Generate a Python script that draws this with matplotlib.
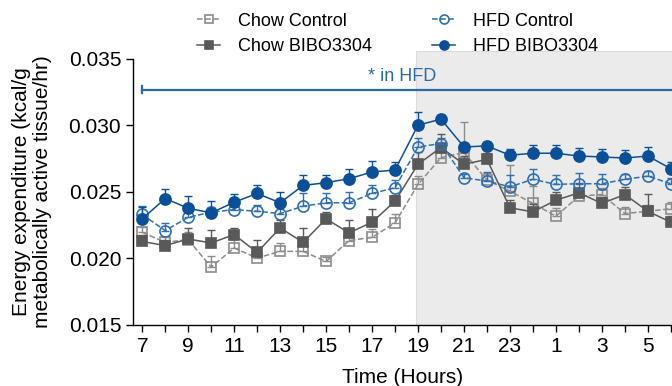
import matplotlib
matplotlib.use("Agg")
import matplotlib.pyplot as plt
from matplotlib.patches import Rectangle
from matplotlib.lines import Line2D

plt.rcParams['font.family'] = ['Liberation Sans', 'DejaVu Sans']

hours = list(range(7, 31))
tick_pos = list(range(7, 31, 2))
tick_labels = ["7", "9", "11", "13", "15", "17", "19", "21", "23", "1", "3", "5"]

chow_control = [0.02196, 0.02121, 0.02141, 0.01935, 0.02078, 0.02003, 0.02053, 0.02053,
                0.01977, 0.02134, 0.02158, 0.02267, 0.02556, 0.02757, 0.02795, 0.02588,
                0.02505, 0.02413, 0.02317, 0.02468, 0.02480, 0.02337, 0.02354, 0.02373]
chow_control_err = [0.0004, 0.0004, 0.0006, 0.0008, 0.0007, 0.0006, 0.0006, 0.0005,
                    0.0003, 0.0005, 0.0006, 0.0007, 0.0006, 0.0006, 0.0023, 0.0005,
                    0.0020, 0.0013, 0.0006, 0.0005, 0.0005, 0.0005, 0.0005, 0.0005]
chow_bibo = [0.02128, 0.02096, 0.02146, 0.02116, 0.02179, 0.02045, 0.02229, 0.02121,
             0.02297, 0.02192, 0.02272, 0.02430, 0.02707, 0.02833, 0.02707, 0.02744,
             0.02380, 0.02350, 0.02437, 0.02493, 0.02413, 0.02480, 0.02354, 0.02272]
chow_bibo_err = [0.0005, 0.0004, 0.0008, 0.0010, 0.0005, 0.0009, 0.0006, 0.0011,
                 0.0005, 0.0010, 0.0010, 0.0005, 0.0009, 0.0010, 0.0006, 0.0005,
                 0.0006, 0.0006, 0.0006, 0.0007, 0.0005, 0.0006, 0.0013, 0.0005]
hfd_control = [0.02330, 0.02209, 0.02309, 0.02347, 0.02367, 0.02354, 0.02337, 0.02392,
               0.02418, 0.02418, 0.02488, 0.02531, 0.02837, 0.02863, 0.02606, 0.02581,
               0.02538, 0.02594, 0.02556, 0.02561, 0.02561, 0.02594, 0.02618, 0.02561]
hfd_control_err = [0.0006, 0.0006, 0.0005, 0.0004, 0.0005, 0.0005, 0.0005, 0.0010,
                   0.00075, 0.0008, 0.0006, 0.0006, 0.0007, 0.0004, 0.0003, 0.0007,
                   0.0009, 0.0008, 0.0007, 0.0008, 0.0007, 0.0004, 0.0004, 0.0004]
hfd_bibo = [0.02297, 0.02450, 0.02377, 0.02342, 0.02422, 0.02488, 0.02418, 0.02548,
            0.02569, 0.02599, 0.02649, 0.02664, 0.03001, 0.03046, 0.02837, 0.02845,
            0.02775, 0.02790, 0.02790, 0.02769, 0.02762, 0.02754, 0.02769, 0.02674]
hfd_bibo_err = [0.0009, 0.0007, 0.0009, 0.0009, 0.0006, 0.0006, 0.0008, 0.0008,
                0.0006, 0.0007, 0.0008, 0.0006, 0.0010, 0.0003, 0.0003, 0.0003,
                0.0005, 0.0006, 0.0006, 0.0006, 0.0006, 0.0006, 0.0007, 0.0005]

GREY_L = "#8c8c8c"
GREY_D = "#595959"
BLUE_L = "#2f6fb0"
BLUE_D = "#0b4f96"
LINE_BLUE = "#2c6aa6"

fig = plt.figure(figsize=(6.72, 3.86), dpi=100)
ax = fig.add_axes([133 / 672, 1 - 325 / 386, 1 - 133 / 672, (325 - 58.7) / 386])

ax.set_xlim(6.6, 30.05)
ax.set_ylim(0.015, 0.035)

# dark phase shading
ax.add_patch(Rectangle((18.9, 0.015), 20, 0.0356 - 0.015, facecolor="#ebebeb",
                       edgecolor="#dcdcdc", linewidth=0.8, clip_on=False, zorder=0))

series = [
    ("Chow Control", chow_control, chow_control_err, GREY_L, "s", "none", "--"),
    ("Chow BIBO3304", chow_bibo, chow_bibo_err, GREY_D, "s", GREY_D, "-"),
    ("HFD Control", hfd_control, hfd_control_err, BLUE_L, "o", "none", "--"),
    ("HFD BIBO3304", hfd_bibo, hfd_bibo_err, BLUE_D, "o", BLUE_D, "-"),
]
handles = []
for i, (lab, y, e, c, m, mfc, ls) in enumerate(series):
    ax.errorbar(hours, y, yerr=[[0] * len(e), e], fmt="none", ecolor=c,
                elinewidth=1.0, capsize=3, capthick=1.0, zorder=2 + i)
    ax.plot(hours, y, linestyle=ls, color=c, linewidth=1.1, marker=m,
            markersize=8 if m == "o" else 7.5, markerfacecolor=mfc,
            markeredgecolor=c, markeredgewidth=1.2, zorder=3 + i)
    handles.append(Line2D([], [], linestyle=ls, color=c, linewidth=1.1, marker=m,
                          markersize=6.5 if m == "o" else 6, markerfacecolor=mfc,
                          markeredgecolor=c, markeredgewidth=1.2, label=lab))

# significance line
ax.plot([7, 40], [0.03267, 0.03267], color=LINE_BLUE, linewidth=1.6, clip_on=False, zorder=6)
ax.plot([7, 7], [0.03242, 0.03292], color=LINE_BLUE, linewidth=1.6, zorder=6)
ax.text(18.32, 0.03363, "* in HFD", color=LINE_BLUE, fontsize=13, ha="center", va="center")

for s in ["top", "right"]:
    ax.spines[s].set_visible(False)
ax.spines["left"].set_linewidth(1.0)
ax.spines["bottom"].set_linewidth(1.0)
ax.spines["left"].set_bounds(0.015, 0.035)

ax.set_yticks([0.015, 0.020, 0.025, 0.030, 0.035])
ax.set_yticklabels(["0.015", "0.020", "0.025", "0.030", "0.035"])
ax.set_xticks(hours, minor=True)
ax.set_xticks(tick_pos)
ax.set_xticklabels(tick_labels)
ax.tick_params(axis="both", which="major", labelsize=15, length=5, width=1.0, direction="out")
ax.tick_params(axis="x", which="minor", length=5, width=1.0)
ax.tick_params(axis="x", pad=4)

ax.set_xlabel("Time (Hours)", fontsize=15, labelpad=8)
ax.set_ylabel("Energy expenditure (kcal/g\nmetabolically active tissue/hr)", fontsize=15,
              linespacing=1.1, labelpad=12)

fig.legend(handles=handles, ncol=2, loc="upper left", bbox_to_anchor=(186 / 672, 0.995),
           frameon=False, fontsize=13, handlelength=1.3, handletextpad=1.0,
           columnspacing=3.3, labelspacing=0.45, borderaxespad=0.2)

fig.savefig("out.png", dpi=100)
